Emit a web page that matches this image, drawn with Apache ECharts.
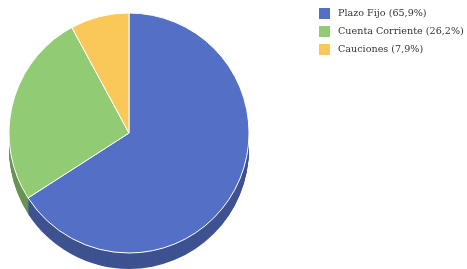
<!DOCTYPE html>
<html>
<head>
<meta charset="utf-8">
<script src="https://cdn.jsdelivr.net/npm/echarts@6/dist/echarts.min.js"></script>
<style>
  html, body { margin: 0; padding: 0; background: #fff; }
  #chart { width: 467px; height: 269px; }
</style>
</head>
<body>
<div id="chart"></div>
<script>
// datos del gráfico
var categories = ['Plazo Fijo', 'Cuenta Corriente', 'Cauciones'];
var values = [65.9, 26.2, 7.9];
var topColors = ['#5470c6', '#91cc75', '#fac858'];
var sideColors = ['#3e5290', '#6a9455', '#b8923f'];

var cx = 129, cy = 133, radius = 120, depth = 16;

var chart = echarts.init(document.getElementById('chart'));

var makeData = function(colors, border) {
  var data = [];
  for (var i = 0; i < categories.length; i++) {
    data.push({
      name: categories[i],
      value: values[i],
      itemStyle: { color: colors[i], borderColor: border ? '#fff' : colors[i], borderWidth: border ? 1 : 0 }
    });
  }
  return data;
};

// capas laterales (efecto 3D)
var series = [];
for (var d = depth; d >= 1; d--) {
  series.push({
    type: 'pie',
    center: [cx, cy + d],
    radius: radius,
    startAngle: 90,
    silent: true,
    animation: false,
    label: { show: false },
    labelLine: { show: false },
    legendHoverLink: false,
    data: makeData(sideColors, false)
  });
}
// cara superior
series.push({
  name: 'top',
  type: 'pie',
  center: [cx, cy],
  radius: radius,
  startAngle: 90,
  animation: false,
  label: { show: false },
  labelLine: { show: false },
  emphasis: { disabled: true },
  data: makeData(topColors, true)
});

var legendData = [];
for (var i = 0; i < categories.length; i++) {
  legendData.push({ name: categories[i], itemStyle: { color: topColors[i], borderWidth: 0 } });
}

chart.setOption({
  color: topColors,
  legend: {
    orient: 'vertical',
    left: 319,
    top: 8,
    padding: 0,
    icon: 'rect',
    itemWidth: 11,
    itemHeight: 11,
    itemGap: 7,
    selectedMode: false,
    data: legendData,
    textStyle: { fontFamily: 'DejaVu Serif', fontSize: 9.6, color: '#333', padding: [0, 0, 0, 3] },
    formatter: function(name) {
      var i = categories.indexOf(name);
      return name + ' (' + values[i].toFixed(1).replace('.', ',') + '%)';
    }
  },
  series: series
});
</script>
</body>
</html>
